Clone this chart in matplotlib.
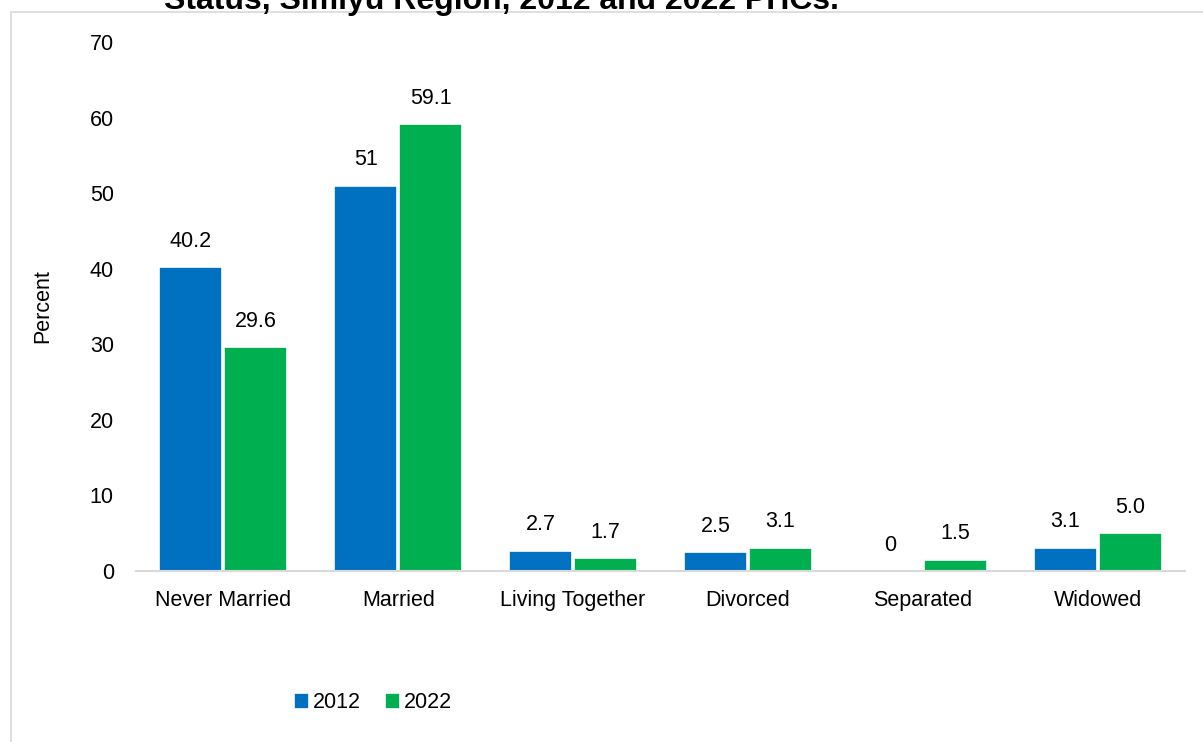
import matplotlib
matplotlib.use("Agg")
import matplotlib.pyplot as plt
import numpy as np
from matplotlib.patches import Rectangle

categories = ["Never Married", "Married", "Living Together", "Divorced", "Separated", "Widowed"]
series_names = ["2012", "2022"]
values_2012 = [40.2, 51, 2.7, 2.5, 0, 3.1]
values_2022 = [29.6, 59.1, 1.7, 3.1, 1.5, 5.0]
labels_2012 = ["40.2", "51", "2.7", "2.5", "0", "3.1"]
labels_2022 = ["29.6", "59.1", "1.7", "3.1", "1.5", "5.0"]
yticks = [0, 10, 20, 30, 40, 50, 60, 70]
title = "Status, Simiyu Region, 2012 and 2022 PHCs."

plt.rcParams['font.family'] = ['Liberation Sans', 'DejaVu Sans']

W, H = 1203, 742
fig = plt.figure(figsize=(W / 100, H / 100), dpi=100)

# outer frame
fig.patches.append(Rectangle((10.5 / W, -0.1), 1.2, 1 - 11.5 / H + 0.1, transform=fig.transFigure,
                             fill=False, edgecolor="#D9D9D9", linewidth=1.2))

ax = fig.add_axes([136 / W, 1 - 571 / H, (1185 - 136) / W, (571 - 42) / H])

x = np.arange(len(categories))
bw = 0.36
off = 0.186
c1, c2 = "#0070C0", "#00B050"
b1 = ax.bar(x - off, values_2012, bw, color=c1, edgecolor="white", linewidth=1.2, label=series_names[0])
b2 = ax.bar(x + off, values_2022, bw, color=c2, edgecolor="white", linewidth=1.2, label=series_names[1])

fs = 15.5
for xi, v, t in zip(x - off, values_2012, labels_2012):
    ax.annotate(t, (xi, v), xytext=(0, 11), textcoords="offset points", ha="center", va="bottom", fontsize=fs)
for xi, v, t in zip(x + off, values_2022, labels_2022):
    ax.annotate(t, (xi, v), xytext=(0, 11), textcoords="offset points", ha="center", va="bottom", fontsize=fs)

ax.set_xlim(-0.5, len(categories) - 0.5)
ax.set_ylim(0, 70)
ax.set_yticks(yticks)
ax.set_yticklabels([str(t) for t in yticks], fontsize=fs)
ax.set_xticks(x)
ax.set_xticklabels(categories, fontsize=fs)
ax.tick_params(axis="both", length=0)
ax.tick_params(axis="y", pad=16)
ax.tick_params(axis="x", pad=14)
for s in ["top", "right", "left"]:
    ax.spines[s].set_visible(False)
ax.spines["bottom"].set_color("#D9D9D9")
ax.spines["bottom"].set_linewidth(1.5)
ax.set_ylabel("Percent", fontsize=fs, labelpad=26)

leg = fig.legend(handles=[b1, b2], labels=series_names, loc="center", bbox_to_anchor=(373 / W, 1 - 703 / H),
                 ncol=2, frameon=False, fontsize=fs, handlelength=0.7, handleheight=0.7,
                 handletextpad=0.2, columnspacing=1.1)

fig.text(501 / W, 1 - 9 / H, title, ha="center", va="baseline", fontsize=23, fontweight="bold")

fig.savefig("out.png", dpi=100)
